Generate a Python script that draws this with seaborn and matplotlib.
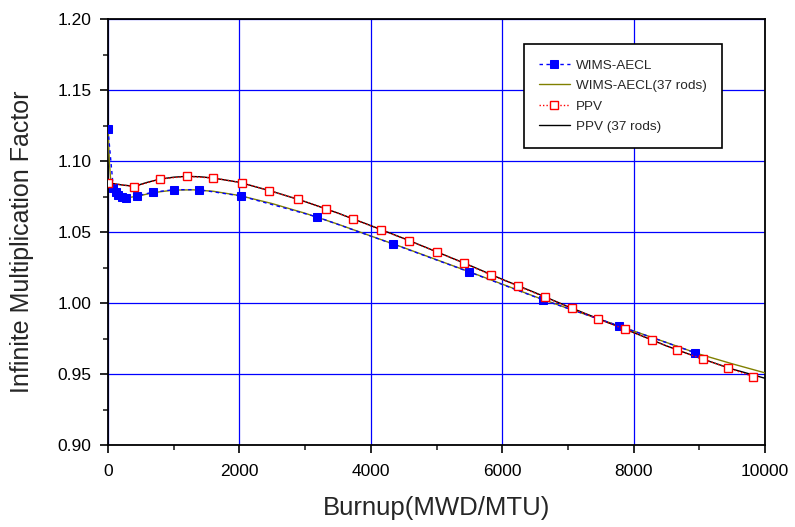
import matplotlib
matplotlib.use("Agg")
import matplotlib.pyplot as plt
import seaborn as sns
import pandas as pd
from matplotlib.ticker import MultipleLocator

# ---------------- data ----------------
wims_burnup = [0, 81, 117, 157, 208, 269, 437, 680, 1010, 1380, 2020,
               3181, 4340, 5490, 6626, 7783, 8935]
wims_kinf = [1.1222, 1.0808, 1.0784, 1.0761, 1.0744, 1.0737, 1.0754, 1.0780,
             1.0798, 1.0798, 1.0754, 1.0606, 1.0415, 1.0220, 1.0021, 0.9838, 0.9650]

wims37_burnup = [0, 20, 40, 70, 120, 200, 300, 450, 700, 1000, 1300, 1600,
                 2000, 2500, 3000, 3500, 4000, 4500, 5000, 5500, 6000, 6500,
                 7000, 7500, 8000, 8500, 9000, 9500, 10000]
wims37_kinf = [1.1220, 1.1000, 1.0870, 1.0805, 1.0775, 1.0750, 1.0742, 1.0752,
               1.0778, 1.0795, 1.0797, 1.0787, 1.0757, 1.0700, 1.0632, 1.0555,
               1.0472, 1.0390, 1.0305, 1.0220, 1.0133, 1.0045, 0.9962, 0.9883,
               0.9803, 0.9722, 0.9640, 0.9572, 0.9508]

ppv_burnup = [0, 396, 791, 1198, 1603, 2035, 2455, 2887, 3313, 3734, 4160,
              4586, 5008, 5423, 5830, 6240, 6651, 7058, 7463, 7869, 8275,
              8655, 9051, 9441, 9822]
ppv_kinf = [1.0847, 1.0819, 1.0873, 1.0892, 1.0880, 1.0847, 1.0791, 1.0732,
            1.0664, 1.0592, 1.0514, 1.0439, 1.0359, 1.0280, 1.0197, 1.0120,
            1.0040, 0.9963, 0.9887, 0.9815, 0.9740, 0.9669, 0.9606, 0.9542,
            0.9481]

ppv37_burnup = [0, 200, 400, 600, 800, 1000, 1200, 1400, 1600, 2000, 2500,
                3000, 3500, 4000, 4500, 5000, 5500, 6000, 6500, 7000, 7500,
                8000, 8500, 9000, 9500, 10000]
ppv37_kinf = [1.0847, 1.0832, 1.0822, 1.0850, 1.0873, 1.0886, 1.0892, 1.0889,
              1.0880, 1.0850, 1.0786, 1.0714, 1.0633, 1.0545, 1.0455, 1.0361,
              1.0266, 1.0167, 1.0073, 0.9975, 0.9882, 0.9792, 0.9698, 0.9613,
              0.9535, 0.9470]

x_label = "Burnup(MWD/MTU)"
y_label = "Infinite Multiplication Factor"

# ---------------- plotting ----------------
sns.set_style("white")
plt.rcParams["font.family"] = ["Liberation Sans", "DejaVu Sans"]

fig = plt.figure(figsize=(7.95, 5.27), dpi=100)
ax = fig.add_axes([108 / 795, 1 - 445 / 527, 657 / 795, 426 / 527])

df_w = pd.DataFrame({"x": wims_burnup, "y": wims_kinf})
df_w37 = pd.DataFrame({"x": wims37_burnup, "y": wims37_kinf})
df_p = pd.DataFrame({"x": ppv_burnup, "y": ppv_kinf})
df_p37 = pd.DataFrame({"x": ppv37_burnup, "y": ppv37_kinf})

sns.lineplot(data=df_w, x="x", y="y", ax=ax, sort=False, estimator=None,
             color="#0000FF", linewidth=1.0, label="WIMS-AECL", zorder=4)
ax.lines[-1].set_linestyle((0, (2.5, 2.5)))
ax.lines[-1].set_marker("s")
ax.lines[-1].set_markersize(5.5)
ax.lines[-1].set_markerfacecolor("#0000FF")
ax.lines[-1].set_markeredgecolor("#0000FF")

sns.lineplot(data=df_w37, x="x", y="y", ax=ax, sort=False, estimator=None,
             color="#808000", linewidth=1.0, label="WIMS-AECL(37 rods)", zorder=3)

sns.lineplot(data=df_p, x="x", y="y", ax=ax, sort=False, estimator=None,
             color="#FF0000", linewidth=1.0, label="PPV", zorder=5)
ax.lines[-1].set_linestyle((0, (1, 1.5)))
ax.lines[-1].set_marker("s")
ax.lines[-1].set_markersize(6)
ax.lines[-1].set_markerfacecolor("white")
ax.lines[-1].set_markeredgecolor("#FF0000")
ax.lines[-1].set_markeredgewidth(1.0)

sns.lineplot(data=df_p37, x="x", y="y", ax=ax, sort=False, estimator=None,
             color="#000000", linewidth=1.0, label="PPV (37 rods)", zorder=3)

ax.set_xlim(0, 10000)
ax.set_ylim(0.90, 1.20)
ax.xaxis.set_major_locator(MultipleLocator(2000))
ax.xaxis.set_minor_locator(MultipleLocator(1000))
ax.yaxis.set_minor_locator(MultipleLocator(0.025))
ax.set_yticks([0.90, 0.95, 1.00, 1.05, 1.10, 1.15, 1.20])
ax.set_yticklabels(["0.90", "0.95", "1.00", "1.05", "1.10", "1.15", "1.20"])

ax.grid(True, which="major", color="#0000FF", linewidth=0.9)
ax.set_axisbelow(True)

for s in ax.spines.values():
    s.set_color("black")
    s.set_linewidth(1.3)
    s.set_visible(True)

ax.tick_params(axis="both", which="major", direction="out", length=6,
               width=1.2, labelsize=12.5, colors="black", pad=6,
               left=True, bottom=True, top=False, right=False)
ax.tick_params(axis="x", which="major", pad=8)
ax.tick_params(axis="both", which="minor", direction="out", length=3.5,
               width=1.2, left=True, bottom=True, top=False, right=False)

ax.set_xlabel(x_label, fontsize=18.5, labelpad=12)
ax.set_ylabel(y_label, fontsize=18)
ax.yaxis.set_label_coords(-0.113, 0.477)

leg = ax.legend(loc="upper right", bbox_to_anchor=(0.9346, 0.9406),
                fontsize=9.7, frameon=True, fancybox=False, framealpha=1,
                edgecolor="black", handlelength=2.3, numpoints=1,
                borderpad=1.1, labelspacing=0.6, handletextpad=0.5,
                borderaxespad=0)
leg.get_frame().set_linewidth(1.2)

fig.savefig("out.png", dpi=100)
